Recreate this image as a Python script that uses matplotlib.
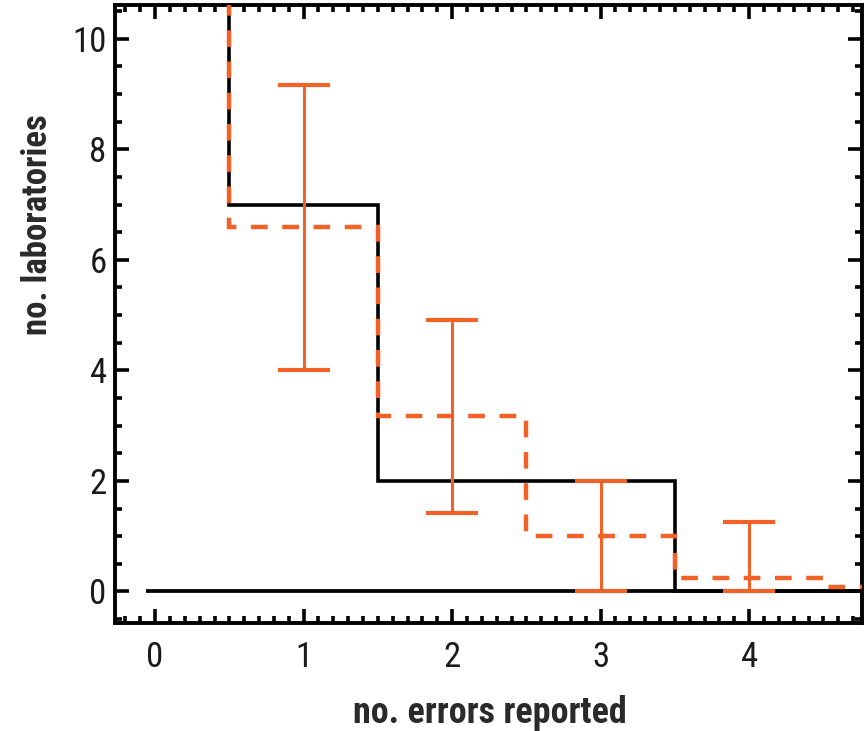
import matplotlib
matplotlib.use("Agg")
import matplotlib.pyplot as plt
from matplotlib import font_manager
import numpy as np

# ---- data ----
bin_edges = [-0.5, 0.5, 1.5, 2.5, 3.5, 4.5, 5.5]
observed = [20.0, 7.0, 2.0, 2.0, 0.0, 0.0]          # black histogram
model = [20.0, 6.6, 3.18, 1.01, 0.25, 0.09]          # orange dashed histogram
err_x = [1, 2, 3, 4]
err_lo = [4.0, 1.42, 0.0, 0.0]
err_hi = [9.17, 4.92, 2.0, 1.25]
baseline_x = [-0.06, 5.5]
baseline_y = [0.0, 0.0]
xticks = [0, 1, 2, 3, 4]
yticks = [0, 2, 4, 6, 8, 10]
xlabel = "no. errors reported"
ylabel = "no. laboratories"

ORANGE = "#F26226"
names = {f.name for f in font_manager.fontManager.ttflist}
cond = "Liberation Sans"
for cand in ["Roboto Condensed", "Liberation Sans Narrow", "Open Sans Condensed"]:
    if cand in names:
        cond = cand
        break

plt.rcParams['font.family'] = [cond, 'DejaVu Sans']

fig = plt.figure(figsize=(8.65, 7.31), dpi=100)
ax = fig.add_axes([115/865, 1-623/731, (862-115)/865, (623-5)/731])

# baseline
ax.plot(baseline_x, baseline_y, color="black", lw=2.7, solid_capstyle="butt", zorder=2)
# observed histogram (black steps)
ax.stairs(observed, bin_edges, color="black", lw=2.6, baseline=None, zorder=3)
# model histogram (orange dashed steps)
ax.stairs(model, bin_edges, color=ORANGE, lw=3.2, baseline=None, zorder=4,
          linestyle=(0, (12.0/3.2, 10.5/3.2)))
# error bars
lo = np.array(err_lo); hi = np.array(err_hi)
ax.errorbar(err_x, (lo+hi)/2, yerr=(hi-lo)/2, fmt="none", ecolor=ORANGE,
            elinewidth=2.2, capsize=19, capthick=3.0, zorder=5)

ax.set_xlim(-0.27, 4.76)
ax.set_ylim(-0.57, 10.61)
ax.set_xticks(xticks)
ax.set_yticks(yticks)
ax.set_xticks(np.arange(-0.2, 4.76, 0.1), minor=True)
ax.set_yticks(np.arange(-0.5, 10.6, 0.5), minor=True)

for s in ax.spines.values():
    s.set_linewidth(2.8)
ax.tick_params(which="both", direction="in", top=True, right=True, width=2.6)
ax.tick_params(which="major", length=10)
ax.tick_params(which="minor", length=5)
ax.tick_params(axis="x", which="major", pad=13, labelsize=25, labelcolor="#1a1a1a")
ax.tick_params(axis="y", which="major", pad=6, labelsize=25, labelcolor="#1a1a1a")

ax.set_xlabel(xlabel, fontsize=26, color="#2a2a2a", fontweight="bold")
ax.xaxis.label.set_va("baseline")
ax.xaxis.set_label_coords(0.502, (623-723)/618)
ax.set_ylabel(ylabel, fontsize=25, color="#2a2a2a", fontweight="bold")
ax.yaxis.label.set_va("baseline")
ax.yaxis.set_label_coords((47-115)/747, (623-225)/618)

fig.savefig("out.png", dpi=100)
